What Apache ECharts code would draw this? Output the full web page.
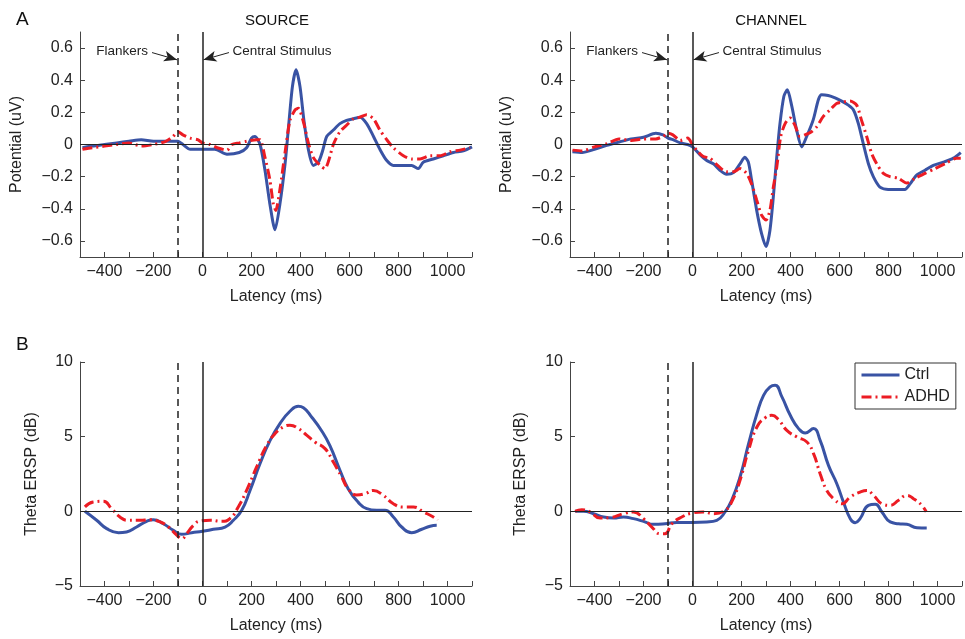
<!DOCTYPE html>
<html><head><meta charset="utf-8">
<script src="https://cdn.jsdelivr.net/npm/echarts@6/dist/echarts.min.js"></script>
<style>html,body{margin:0;padding:0;background:#fff}#c{width:965px;height:639px}</style>
</head><body><div id="c"></div>
<script>
// ---- tick values ----
const xTicks = [-400,-300,-200,-100,0,100,200,300,400,500,600,700,800,900,1000,1100];
const xLabels = [-400,-200,0,200,400,600,800,1000];
const erpTicks = [-0.6,-0.4,-0.2,0,0.2,0.4,0.6];
const erspTicks = [-5,0,5,10];

// ---- data: [latency ms, value] ----
const srcErpCtrl = [[-490,-0.02],[-450,-0.01],[-400,0.0],[-350,0.01],[-300,0.02],[-250,0.03],[-200,0.02],[-150,0.02],[-100,0.02],[-80,0.0],[-50,-0.03],[-20,-0.03],[0,-0.03],[50,-0.03],[100,-0.06],[150,-0.05],[180,-0.02],[200,0.04],[214,0.05],[235,0.0],[255,-0.16],[275,-0.37],[296,-0.53],[316,-0.37],[337,-0.12],[350,0.09],[367,0.36],[382,0.465],[398,0.36],[414,0.15],[432,-0.03],[452,-0.13],[473,-0.11],[490,-0.04],[507,0.05],[534,0.09],[561,0.13],[588,0.15],[616,0.16],[643,0.17],[670,0.13],[698,0.05],[724,-0.03],[752,-0.10],[779,-0.13],[820,-0.13],[854,-0.13],[881,-0.15],[901,-0.11],[942,-0.09],[983,-0.07],[1024,-0.05],[1065,-0.04],[1100,-0.015]];
const srcErpAdhd = [[-490,-0.03],[-450,-0.02],[-400,-0.01],[-350,0.0],[-300,0.01],[-250,-0.01],[-200,0.0],[-150,0.02],[-120,0.05],[-100,0.08],[-80,0.06],[-50,0.04],[-20,0.03],[0,0.01],[30,0.0],[60,-0.02],[100,-0.035],[120,0.0],[150,0.01],[180,0.02],[221,0.03],[235,0.03],[255,-0.08],[275,-0.22],[289,-0.37],[299,-0.41],[316,-0.28],[337,-0.05],[357,0.15],[378,0.215],[391,0.225],[412,0.14],[432,0.01],[452,-0.08],[480,-0.13],[500,-0.15],[515,-0.10],[534,0.0],[561,0.08],[588,0.12],[616,0.16],[643,0.17],[670,0.185],[698,0.16],[724,0.09],[752,0.03],[779,-0.02],[820,-0.07],[854,-0.09],[888,-0.09],[929,-0.07],[970,-0.07],[1010,-0.045],[1051,-0.035],[1092,-0.02]];
const chErpCtrl = [[-490,-0.045],[-450,-0.05],[-400,-0.03],[-350,-0.005],[-300,0.015],[-250,0.035],[-200,0.045],[-150,0.07],[-120,0.06],[-100,0.04],[-80,0.03],[-50,0.01],[-20,0.0],[0,-0.015],[31,-0.065],[58,-0.1],[85,-0.12],[112,-0.16],[139,-0.185],[167,-0.175],[194,-0.12],[214,-0.08],[228,-0.11],[241,-0.22],[262,-0.41],[282,-0.555],[300,-0.635],[316,-0.535],[330,-0.325],[344,-0.075],[357,0.13],[373,0.3],[387,0.34],[405,0.24],[425,0.09],[446,-0.015],[466,0.05],[493,0.155],[514,0.28],[527,0.31],[554,0.305],[582,0.29],[609,0.27],[636,0.245],[657,0.215],[677,0.13],[697,0.005],[718,-0.12],[738,-0.2],[765,-0.265],[799,-0.28],[833,-0.28],[867,-0.28],[888,-0.245],[915,-0.19],[949,-0.16],[983,-0.13],[1024,-0.11],[1065,-0.085],[1095,-0.05]];
const chErpAdhd = [[-490,-0.035],[-450,-0.04],[-400,-0.015],[-350,0.005],[-300,0.035],[-250,0.025],[-200,0.035],[-150,0.035],[-120,0.05],[-100,0.07],[-80,0.06],[-50,0.025],[-20,0.04],[0,0.0],[17,-0.035],[44,-0.075],[71,-0.085],[99,-0.125],[139,-0.17],[167,-0.17],[194,-0.15],[221,-0.18],[241,-0.245],[262,-0.345],[282,-0.44],[300,-0.47],[316,-0.41],[330,-0.265],[344,-0.14],[360,0.05],[378,0.13],[398,0.165],[418,0.12],[439,0.05],[459,0.06],[486,0.08],[507,0.11],[534,0.175],[561,0.215],[588,0.255],[616,0.265],[643,0.27],[670,0.245],[690,0.15],[711,0.05],[731,-0.055],[752,-0.12],[779,-0.18],[806,-0.2],[840,-0.21],[874,-0.24],[908,-0.21],[949,-0.18],[990,-0.15],[1031,-0.12],[1078,-0.085],[1095,-0.085]];
const srcErspCtrl = [[-480,0],[-432,-0.6],[-391,-1.16],[-343,-1.43],[-310,-1.38],[-269,-1.05],[-228,-0.67],[-201,-0.56],[-160,-0.83],[-119,-1.27],[-85,-1.54],[-44,-1.43],[0,-1.34],[44,-1.2],[92,-1.05],[126,-0.6],[160,0.07],[194,1.4],[235,3.2],[276,4.75],[316,5.87],[357,6.7],[391,7.03],[412,6.94],[446,6.3],[486,5.4],[520,4.4],[561,2.75],[595,1.5],[636,0.6],[670,0.18],[711,0.07],[745,0.07],[779,-0.38],[813,-1.05],[854,-1.43],[895,-1.2],[929,-1.0],[956,-0.94]];
const srcErspAdhd = [[-480,0.3],[-446,0.62],[-405,0.67],[-371,0.18],[-337,-0.38],[-303,-0.6],[-255,-0.6],[-214,-0.56],[-173,-0.71],[-139,-1.05],[-105,-1.6],[-85,-1.83],[-65,-1.5],[-37,-0.94],[-10,-0.65],[31,-0.6],[78,-0.67],[112,-0.49],[146,0.29],[180,1.4],[221,2.97],[262,4.42],[296,5.2],[330,5.65],[357,5.76],[391,5.54],[425,5.1],[459,4.64],[500,4.2],[534,3.3],[568,2.3],[595,1.5],[629,1.1],[663,1.18],[697,1.4],[738,1.07],[779,0.51],[820,0.29],[861,0.29],[902,-0.04],[942,-0.38],[959,-0.6]];
const chErspCtrl = [[-479,0],[-445,0],[-404,-0.16],[-363,-0.38],[-322,-0.45],[-282,-0.38],[-241,-0.49],[-200,-0.67],[-159,-0.87],[-112,-0.83],[-64,-0.74],[0,-0.74],[58,-0.71],[99,-0.6],[133,-0.04],[160,0.74],[194,2.3],[229,4.53],[263,6.54],[290,7.77],[317,8.33],[337,8.44],[365,7.66],[399,6.43],[433,5.54],[460,5.25],[494,5.54],[521,4.75],[555,3.08],[589,1.85],[616,0.63],[644,-0.49],[664,-0.76],[684,-0.49],[718,0.4],[746,0.47],[773,-0.04],[807,-0.71],[841,-0.83],[875,-0.87],[916,-1.1],[956,-1.12]];
const chErspAdhd = [[-479,0],[-452,0.11],[-418,-0.04],[-377,-0.45],[-336,-0.42],[-282,-0.16],[-241,-0.04],[-200,-0.49],[-166,-1.05],[-132,-1.5],[-112,-1.5],[-84,-0.83],[-44,-0.38],[0,-0.11],[45,-0.04],[86,-0.16],[133,0.07],[160,0.63],[194,2.08],[229,4.1],[263,5.65],[297,6.27],[324,6.43],[351,6.14],[385,5.42],[426,4.98],[467,4.64],[494,3.86],[521,2.52],[548,1.4],[576,0.85],[610,0.51],[644,0.96],[684,1.29],[711,1.4],[739,1.07],[773,0.51],[807,0.4],[841,0.74],[875,1.07],[902,0.85],[936,0.4],[954,-0.04]];

const F = '"Liberation Sans", Arial, Helvetica, sans-serif';
const TXT = '#222';
const BLUE = '#3953a4';
const RED = '#ec1c24';
const fmt = v => (v < 0 ? '\u2212' : '') + Math.abs(v);

const grids = [
  {left:80, top:32, width:392, height:225},
  {left:570, top:32, width:392, height:225},
  {left:80, top:362, width:392, height:224},
  {left:570, top:362, width:392, height:224}
];

function xAx(gi){
  return {type:'value', gridIndex:gi, min:-500, max:1100,
    name:'Latency (ms)', nameLocation:'middle', nameGap:32,
    nameTextStyle:{fontSize:16, color:TXT, fontFamily:F},
    axisLine:{onZero:false, lineStyle:{color:'#444', width:1}},
    axisTick:{inside:true, length:5, customValues:xTicks, lineStyle:{color:'#444'}},
    axisLabel:{customValues:xLabels, formatter:fmt, fontSize:16, color:TXT, fontFamily:F, margin:7},
    splitLine:{show:false}};
}
function yAx(gi, erp, gap){
  return {type:'value', gridIndex:gi,
    min: erp ? -0.7 : -5, max: erp ? 0.7 : 10,
    name: erp ? 'Potential (uV)' : 'Theta ERSP (dB)', nameLocation:'middle', nameGap:gap, nameRotate:90,
    nameTextStyle:{fontSize:16, color:TXT, fontFamily:F},
    axisLine:{show:true, onZero:false, lineStyle:{color:'#444', width:1}},
    axisTick:{show:true, inside:true, length:5, customValues: erp ? erpTicks : erspTicks, lineStyle:{color:'#444'}},
    axisLabel:{customValues: erp ? erpTicks : erspTicks, formatter:fmt, fontSize:16, color:TXT, fontFamily:F, margin:7},
    splitLine:{show:false}};
}

function refLines(){
  return {silent:true, symbol:'none', animation:false, label:{show:false}, data:[
    {xAxis:-100, lineStyle:{type:[7,5], color:'#222', width:1.5}},
    {xAxis:0, lineStyle:{type:'solid', color:'#222', width:1.5}},
    {yAxis:0, lineStyle:{type:'solid', color:'#222', width:1}}
  ]};
}
function arrowLines(){
  const ls = {type:'solid', color:'#222', width:1};
  return {silent:true, animation:false, label:{show:false}, lineStyle:ls, data:[
    [{coord:[-206,0.572], symbol:'none'}, {coord:[-104,0.527], symbol:'arrow', symbolSize:[8,13]}],
    [{coord:[108,0.572], symbol:'none'}, {coord:[4,0.527], symbol:'arrow', symbolSize:[8,13]}]
  ]};
}
function annotations(){
  const lab = (t, pos) => ({show:true, formatter:t, position:pos, distance:2, fontSize:13.5, color:TXT, fontFamily:F});
  return {silent:true, animation:false, symbol:'circle', symbolSize:1, itemStyle:{color:'rgba(0,0,0,0)'}, data:[
    {coord:[-212,0.578], label:lab('Flankers','left')},
    {coord:[112,0.578], label:lab('Central Stimulus','right')}
  ]};
}

function ctrl(gi, data, smooth){
  return {name:'Ctrl', type:'line', xAxisIndex:gi, yAxisIndex:gi, data:data, symbol:'none', smooth:smooth,
    lineStyle:{color:BLUE, width:3}, itemStyle:{color:BLUE}, z:3, markLine:refLines()};
}
function adhd(gi, data, smooth, erp){
  const s = {name:'ADHD', type:'line', xAxisIndex:gi, yAxisIndex:gi, data:data, symbol:'none', smooth:smooth,
    lineStyle:{color:RED, width:3, type:[10,4,2,4]}, itemStyle:{color:RED}, z:4};
  if (erp) { s.markLine = arrowLines(); s.markPoint = annotations(); }
  return s;
}

const chart = echarts.init(document.getElementById('c'), null, {renderer:'canvas'});
chart.setOption({
  animation:false,
  backgroundColor:'#fff',
  textStyle:{fontFamily:F},
  title:[
    {text:'A', left:11, top:5, textStyle:{fontSize:19, fontWeight:'normal', color:'#111', fontFamily:F}},
    {text:'SOURCE', left:272, top:8, textAlign:'center', textStyle:{fontSize:15, fontWeight:'normal', color:'#111', fontFamily:F}},
    {text:'CHANNEL', left:766, top:8, textAlign:'center', textStyle:{fontSize:15, fontWeight:'normal', color:'#111', fontFamily:F}},
    {text:'B', left:11, top:330, textStyle:{fontSize:19, fontWeight:'normal', color:'#111', fontFamily:F}}
  ],
  legend:{data:['Ctrl','ADHD'], orient:'vertical', left:855, top:363, itemWidth:38, itemHeight:14, itemGap:6,
    padding:[4,6,4,5], borderColor:'#333', borderWidth:1, backgroundColor:'#fff',
    itemStyle:{opacity:0}, lineStyle:{width:3},
    textStyle:{fontSize:16, color:TXT, fontFamily:F}, selectedMode:false},
  grid:grids,
  xAxis:[xAx(0), xAx(1), xAx(2), xAx(3)],
  yAxis:[yAx(0,true,55), yAx(1,true,55), yAx(2,false,40), yAx(3,false,41)],
  series:[
    ctrl(0, srcErpCtrl, 0.25), adhd(0, srcErpAdhd, 0.25, true),
    ctrl(1, chErpCtrl, 0.25), adhd(1, chErpAdhd, 0.25, true),
    ctrl(2, srcErspCtrl, 0.5), adhd(2, srcErspAdhd, 0.5, false),
    ctrl(3, chErspCtrl, 0.5), adhd(3, chErspAdhd, 0.5, false)
  ]
});
</script>
</body></html>
